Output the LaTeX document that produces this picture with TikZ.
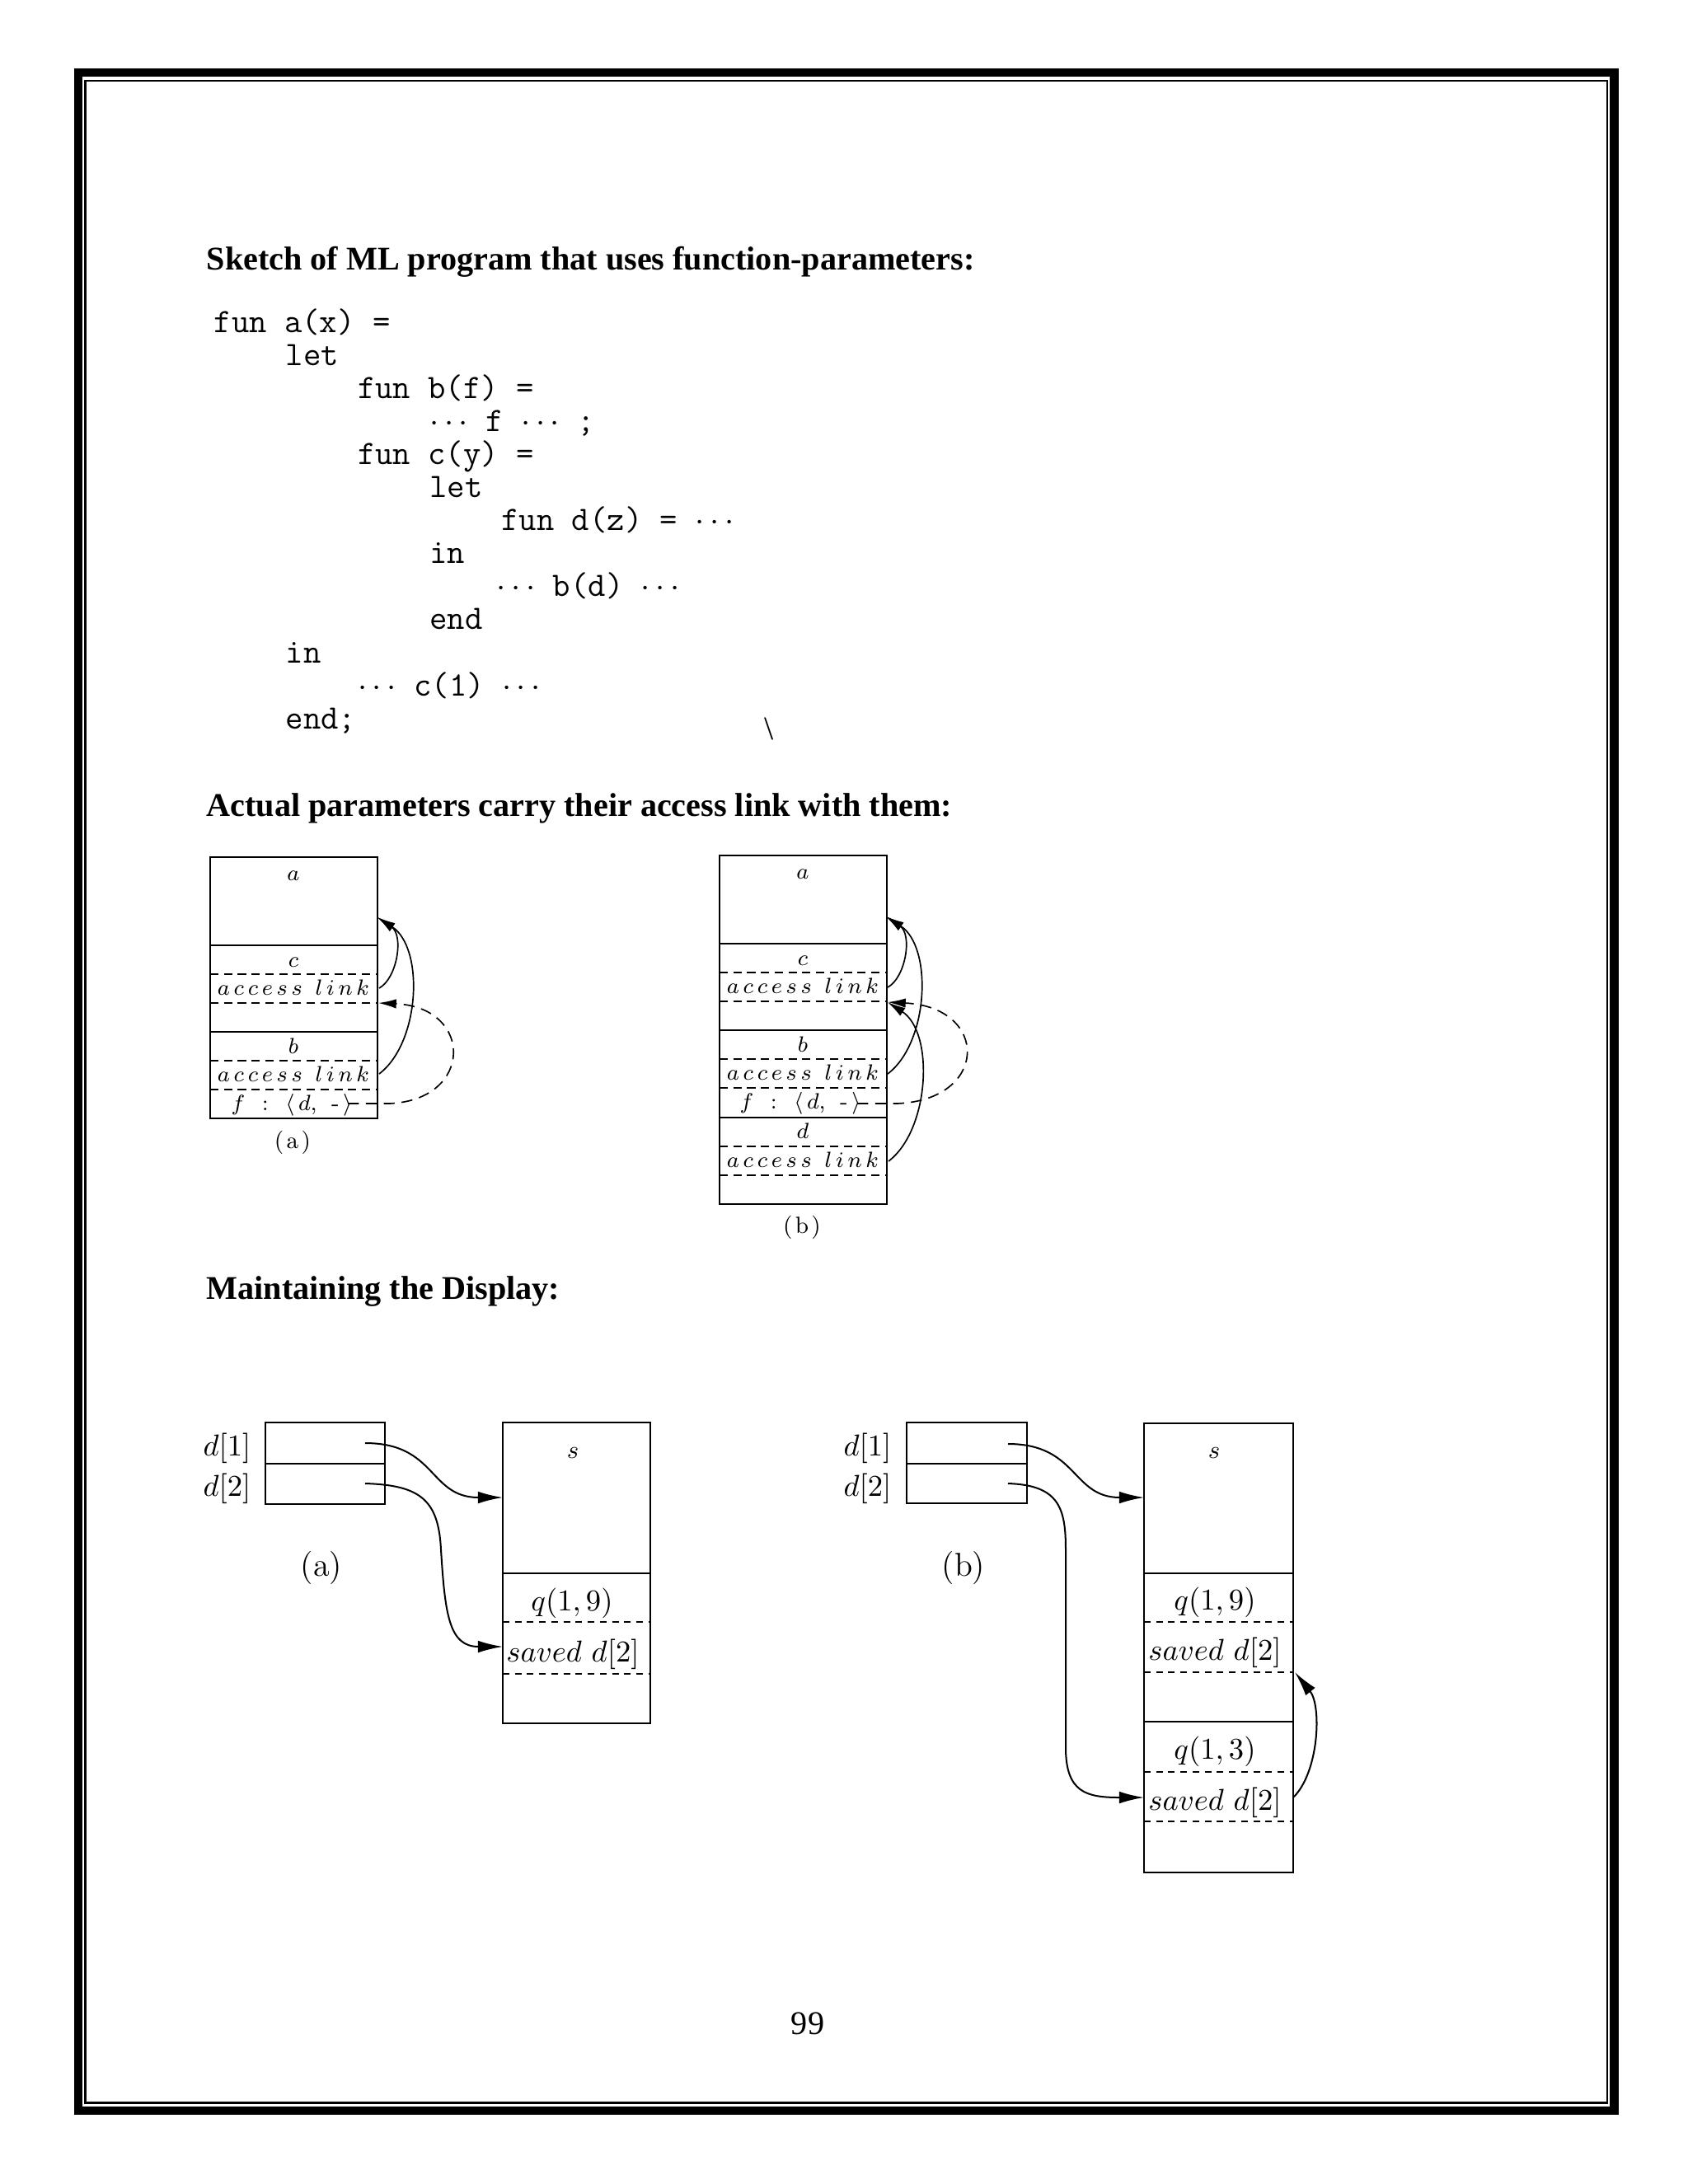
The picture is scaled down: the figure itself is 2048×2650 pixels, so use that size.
\documentclass[tikz,border=0pt]{standalone}
\usepackage{fontspec}
\newfontfamily\timesfont{Liberation Serif}
\usetikzlibrary{arrows.meta}
\newcommand{\accl}{$a\,c\,c\,e\,s\,s\;\;l\,i\,n\,k$}
\newcommand{\flbl}{$f\;\,:\;\,\langle\, d,\;\,\mbox{-}\,\rangle$}
\begin{document}
\begin{tikzpicture}[x=0.2988pt,y=-0.2988pt,
  heading/.style={font=\timesfont\bfseries\fontsize{12}{14}\selectfont,anchor=base west,inner sep=0},
  pagenum/.style={font=\timesfont\fontsize{12}{14}\selectfont,anchor=base,inner sep=0},
  codeline/.style={font=\ttfamily\fontsize{12.4}{14}\selectfont,anchor=base west,inner sep=0,text height=7.5pt,text depth=2pt},
  smalllbl/.style={font=\fontsize{8}{9}\selectfont,anchor=base,inner sep=0},
  sublbl/.style={font=\fontsize{8.5}{9}\selectfont,anchor=base,inner sep=0},
  biglbl/.style={font=\fontsize{10.5}{12}\selectfont,anchor=base,inner sep=0},
  caplbl/.style={font=\fontsize{12}{14}\selectfont,anchor=base,inner sep=0},
  thinbox/.style={line width=0.5pt},
  thindash/.style={line width=0.5pt,dash pattern=on 3pt off 2pt},
  thickbox/.style={line width=0.75pt},
  thickdash/.style={line width=0.65pt,dash pattern=on 2.4pt off 2pt},
  alarrow/.style={line width=0.5pt,-{Latex[length=6.5pt,width=3.4pt]}},
  aldash/.style={alarrow,dash pattern=on 4pt off 2.5pt},
  disarrow/.style={line width=0.6pt,-{Latex[length=9pt,width=4.4pt]}},
]
\fill[white] (0,0) rectangle (2048,2650);
\useasboundingbox (0,0) rectangle (2048,2650);

% page frame
\draw[line width=3.14pt] (95,88) rectangle (1958.5,2561);
\draw[line width=0.75pt] (103.5,98) rectangle (1950,2551.5);

% headings
\node[heading] (h1) at (250,327) {Sketch of ML program that uses function-parameters:};
\node[heading] (h2) at (250,990) {Actual parameters carry their access link with them:};
\node[heading] (h3) at (250,1576) {Maintaining the Display:};
\node[pagenum] (pg) at (980,2468) {99};

% code
\node[codeline] (c1)  at (259,403)    {fun a(x) =};
\node[codeline] (c2)  at (346.2,443.1)  {let};
\node[codeline] (c3)  at (433.4,483.2)  {fun b(f) =};
\node[codeline] (c4)  at (520.6,523.3)  {$\cdots$ f $\cdots$ ;};
\node[codeline] (c5)  at (433.4,563.4)  {fun c(y) =};
\node[codeline] (c6)  at (520.6,603.5)  {let};
\node[codeline] (c7)  at (607.8,643.6)  {fun d(z) = $\cdots$};
\node[codeline] (c8)  at (520.6,683.7)  {in};
\node[codeline] (c9)  at (602,723.8)    {$\cdots$ b(d) $\cdots$};
\node[codeline] (c10) at (520.6,763.9)  {end};
\node[codeline] (c11) at (346.2,804)    {in};
\node[codeline] (c12) at (433.4,844.1)  {$\cdots$ c(1) $\cdots$};
\node[codeline] (c13) at (346.2,884.2)  {end;};
\node[pagenum] (bs) at (933,897) {\textbackslash};

% ---------- access links (a)
\draw[thinbox] (255,1040) rectangle (458,1357);
\draw[thinbox] (255,1147) -- (458,1147);
\draw[thinbox] (255,1252) -- (458,1252);
\draw[thindash] (255,1182) -- (458,1182);
\draw[thindash] (255,1217) -- (458,1217);
\draw[thindash] (255,1287) -- (458,1287);
\draw[thindash] (255,1322) -- (458,1322);
\node[smalllbl] (Aa)  at (356,1068) {$a$};
\node[smalllbl] (Ac)  at (356,1173) {$c$};
\node[smalllbl] (Aal1) at (356,1207) {\accl};
\node[smalllbl] (Ab)  at (356,1278) {$b$};
\node[smalllbl] (Aal2) at (356,1312) {\accl};
\node[smalllbl] (Af)  at (354,1347) {\flbl};
\node[sublbl] (Acap) at (355,1393) {(\kern1pt a\kern1pt)};
\coordinate (Acal) at (460,1199);
\coordinate (Abal) at (460,1303);
\coordinate (Aatip) at (458,1113);
\coordinate (Actip) at (459,1217);
\coordinate (Afs) at (422,1339);
\coordinate (Afe) at (472,1339);
\draw[alarrow] (Acal) .. controls +(22,-12) and +(32,22) .. (Aatip);
\draw[alarrow] (Abal) .. controls +(50,-38) and +(57,37) .. (Aatip);
\draw[aldash] (Afs) -- (Afe) .. controls +(103,-4) and +(116,5) .. (Actip);

% ---------- access links (b)
\draw[thinbox] (873,1038) rectangle (1076,1461);
\draw[thinbox] (873,1145) -- (1076,1145);
\draw[thinbox] (873,1250) -- (1076,1250);
\draw[thinbox] (873,1356) -- (1076,1356);
\draw[thindash] (873,1180) -- (1076,1180);
\draw[thindash] (873,1215) -- (1076,1215);
\draw[thindash] (873,1285) -- (1076,1285);
\draw[thindash] (873,1320) -- (1076,1320);
\draw[thindash] (873,1391) -- (1076,1391);
\draw[thindash] (873,1426) -- (1076,1426);
\node[smalllbl] (Ba)  at (974,1066) {$a$};
\node[smalllbl] (Bc)  at (974,1171) {$c$};
\node[smalllbl] (Bal1) at (974,1205) {\accl};
\node[smalllbl] (Bb)  at (974,1276) {$b$};
\node[smalllbl] (Bal2) at (974,1310) {\accl};
\node[smalllbl] (Bf)  at (971,1345) {\flbl};
\node[smalllbl] (Bd)  at (974,1381) {$d$};
\node[smalllbl] (Bal3) at (974,1416) {\accl};
\node[sublbl] (Bcap) at (973,1496) {(\kern1pt b\kern1pt)};
\coordinate (Bcal) at (1077,1198);
\coordinate (Bbal) at (1077,1303);
\coordinate (Bdal) at (1078,1409);
\coordinate (Batip) at (1075,1112);
\coordinate (Bctip) at (1077,1216);
\coordinate (Bfs) at (1040,1339);
\coordinate (Bfe) at (1088,1339);
\draw[alarrow] (Bcal) .. controls +(22,-12) and +(32,22) .. (Batip);
\draw[alarrow] (Bbal) .. controls +(50,-38) and +(57,37) .. (Batip);
\draw[alarrow] (Bdal) .. controls +(50,-38) and +(57,37) .. (Bctip);
\draw[aldash] (Bfs) -- (Bfe) .. controls +(112,-4) and +(124,6) .. (Bctip);

% ---------- display (a)
\draw[thickbox] (322,1726) rectangle (467,1825);
\draw[thickbox] (322,1776) -- (467,1776);
\node[biglbl,anchor=base east] (Dad1) at (305,1766) {$d[1]$};
\node[biglbl,anchor=base east] (Dad2) at (305,1815) {$d[2]$};
\node[caplbl] (Dacap) at (390,1912) {(a)};
\draw[thickbox] (610,1726) rectangle (789,2091);
\draw[thickbox] (610,1909) -- (789,1909);
\draw[thickdash] (610,1968) -- (789,1968);
\draw[thickdash] (610,2031) -- (789,2031);
\node[font=\fontsize{9}{10}\selectfont,anchor=base,inner sep=0] (Das) at (695,1769) {$s$};
\node[biglbl] (Daq) at (694,1954) {$q(1,9)$};
\node[biglbl] (Dasv) at (695,2016) {$saved\ d[2]$};
\coordinate (Da1s) at (443,1751);
\coordinate (Da2s) at (443,1800);
\coordinate (Dastip) at (610,1817);
\coordinate (Davtip) at (610,1998);
\draw[disarrow] (Da1s) .. controls +(87,0) and +(-90,0) .. (Dastip);
\draw[disarrow] (Da2s) .. controls +(67,2) and +(-3,-60) .. (535,1880)
  .. controls +(5,80) and +(-65,0) .. (Davtip);

% ---------- display (b)
\draw[thickbox] (1100,1726) rectangle (1246,1824);
\draw[thickbox] (1100,1776) -- (1246,1776);
\node[biglbl,anchor=base east] (Dbd1) at (1082,1766) {$d[1]$};
\node[biglbl,anchor=base east] (Dbd2) at (1082,1815) {$d[2]$};
\node[caplbl] (Dbcap) at (1169,1912) {(b)};
\draw[thickbox] (1388,1727) rectangle (1569,2272);
\draw[thickbox] (1388,1909) -- (1569,1909);
\draw[thickbox] (1388,2089) -- (1569,2089);
\draw[thickdash] (1388,1968) -- (1569,1968);
\draw[thickdash] (1388,2029) -- (1569,2029);
\draw[thickdash] (1388,2150) -- (1569,2150);
\draw[thickdash] (1388,2210) -- (1569,2210);
\node[font=\fontsize{9}{10}\selectfont,anchor=base,inner sep=0] (Dbs) at (1473,1769) {$s$};
\node[biglbl] (Dbq1) at (1474,1953) {$q(1,9)$};
\node[biglbl] (Dbsv1) at (1474,2014) {$saved\ d[2]$};
\node[biglbl] (Dbq2) at (1474,2134) {$q(1,3)$};
\node[biglbl] (Dbsv2) at (1474,2196) {$saved\ d[2]$};
\coordinate (Db1s) at (1223,1752);
\coordinate (Db2s) at (1223,1800);
\coordinate (Dbstip) at (1388,1817);
\coordinate (Dbvtip) at (1388,2181);
\coordinate (Dbsv2r) at (1569,2181);
\coordinate (Dbsv1tip) at (1571,2029);
\draw[disarrow] (Db1s) .. controls +(85,0) and +(-88,0) .. (Dbstip);
\draw[disarrow] (Db2s) .. controls +(62,2) and +(0,-50) .. (1293,1880)
  -- (1293,2120) .. controls +(0,55) and +(-70,0) .. (Dbvtip);
\draw[disarrow] (Dbsv2r) .. controls +(31,-30) and +(33,41) .. (Dbsv1tip);
\end{tikzpicture}
\end{document}
